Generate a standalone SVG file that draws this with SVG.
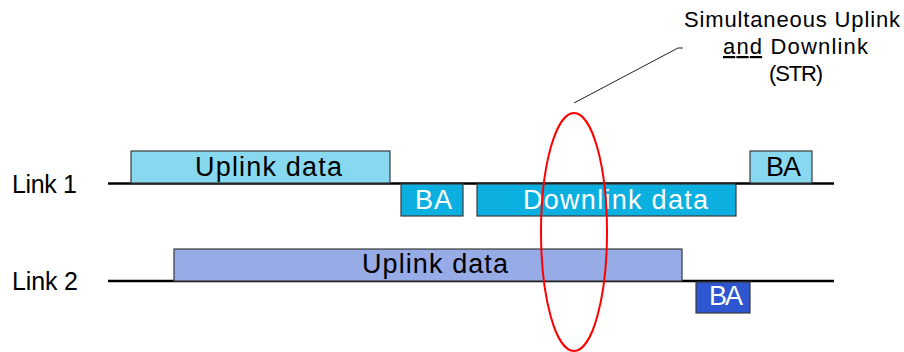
<svg xmlns="http://www.w3.org/2000/svg" width="904" height="352" viewBox="0 0 904 352">
  <style>
    text { font-family: "Liberation Sans", Arial, sans-serif; }
    .lbl { font-size: 25px; fill: #000; }
    .frame { font-size: 27px; text-anchor: middle; }
    .dark { fill: #000; }
    .light { fill: #fff; }
    .box { stroke: #3a3a3a; stroke-width: 1.2; }
    .up1 { fill: #88d8f0; }
    .dl { fill: #0bb0e0; }
    .up2 { fill: #97abe6; }
    .ba2 { fill: #2d56d0; }
    .axis { stroke: #000; stroke-width: 2.5; }
    .note { font-size: 22px; text-anchor: middle; fill: #000; }
  </style>

  <!-- timelines -->
  <g id="link1">
    <line class="axis" x1="108" y1="183.5" x2="834" y2="183.5"/>
    <text class="lbl" x="12" y="193" textLength="65">Link 1</text>
  </g>
  <g id="link2">
    <line class="axis" x1="108" y1="281" x2="834" y2="281"/>
    <text class="lbl" x="12" y="290" textLength="66">Link 2</text>
  </g>

  <!-- Link 1 frames -->
  <g id="l1-uplink">
    <rect class="box up1" x="131" y="151" width="259" height="32"/>
    <text class="frame dark" x="268.5" y="176" textLength="147">Uplink data</text>
  </g>
  <g id="l1-ba">
    <rect class="box dl" x="401" y="184" width="62" height="32"/>
    <text class="frame light" x="433.5" y="208.5" textLength="37">BA</text>
  </g>
  <g id="l1-downlink">
    <rect class="box dl" x="477" y="184" width="259" height="32"/>
    <text class="frame light" x="615.5" y="208.5" textLength="185">Downlink data</text>
  </g>
  <g id="l1-ba-end">
    <rect class="box up1" x="750" y="151" width="62" height="32"/>
    <text class="frame dark" x="783.5" y="176" textLength="35">BA</text>
  </g>

  <!-- Link 2 frames -->
  <g id="l2-uplink">
    <rect class="box up2" x="174" y="249" width="508" height="32"/>
    <text class="frame dark" x="435" y="273" textLength="146">Uplink data</text>
  </g>
  <g id="l2-ba">
    <rect class="box ba2" x="696" y="282" width="54" height="31"/>
    <text class="frame light" x="726" y="305" textLength="34">BA</text>
  </g>

  <!-- STR highlight and callout -->
  <g id="connectors">
    <ellipse cx="574" cy="232" rx="33" ry="119" fill="none" stroke="#ff0000" stroke-width="2"/>
    <polyline points="574,103 678,48 683,48" fill="none" stroke="#222" stroke-width="1"/>
  </g>
  <g id="str-note">
    <text class="note" x="792" y="27" textLength="216">Simultaneous Uplink</text>
    <text class="note" x="795.5" y="54" textLength="145"><tspan text-decoration="underline">and</tspan> Downlink</text>
    <text class="note" x="796" y="81" textLength="54">(STR)</text>
  </g>
</svg>
